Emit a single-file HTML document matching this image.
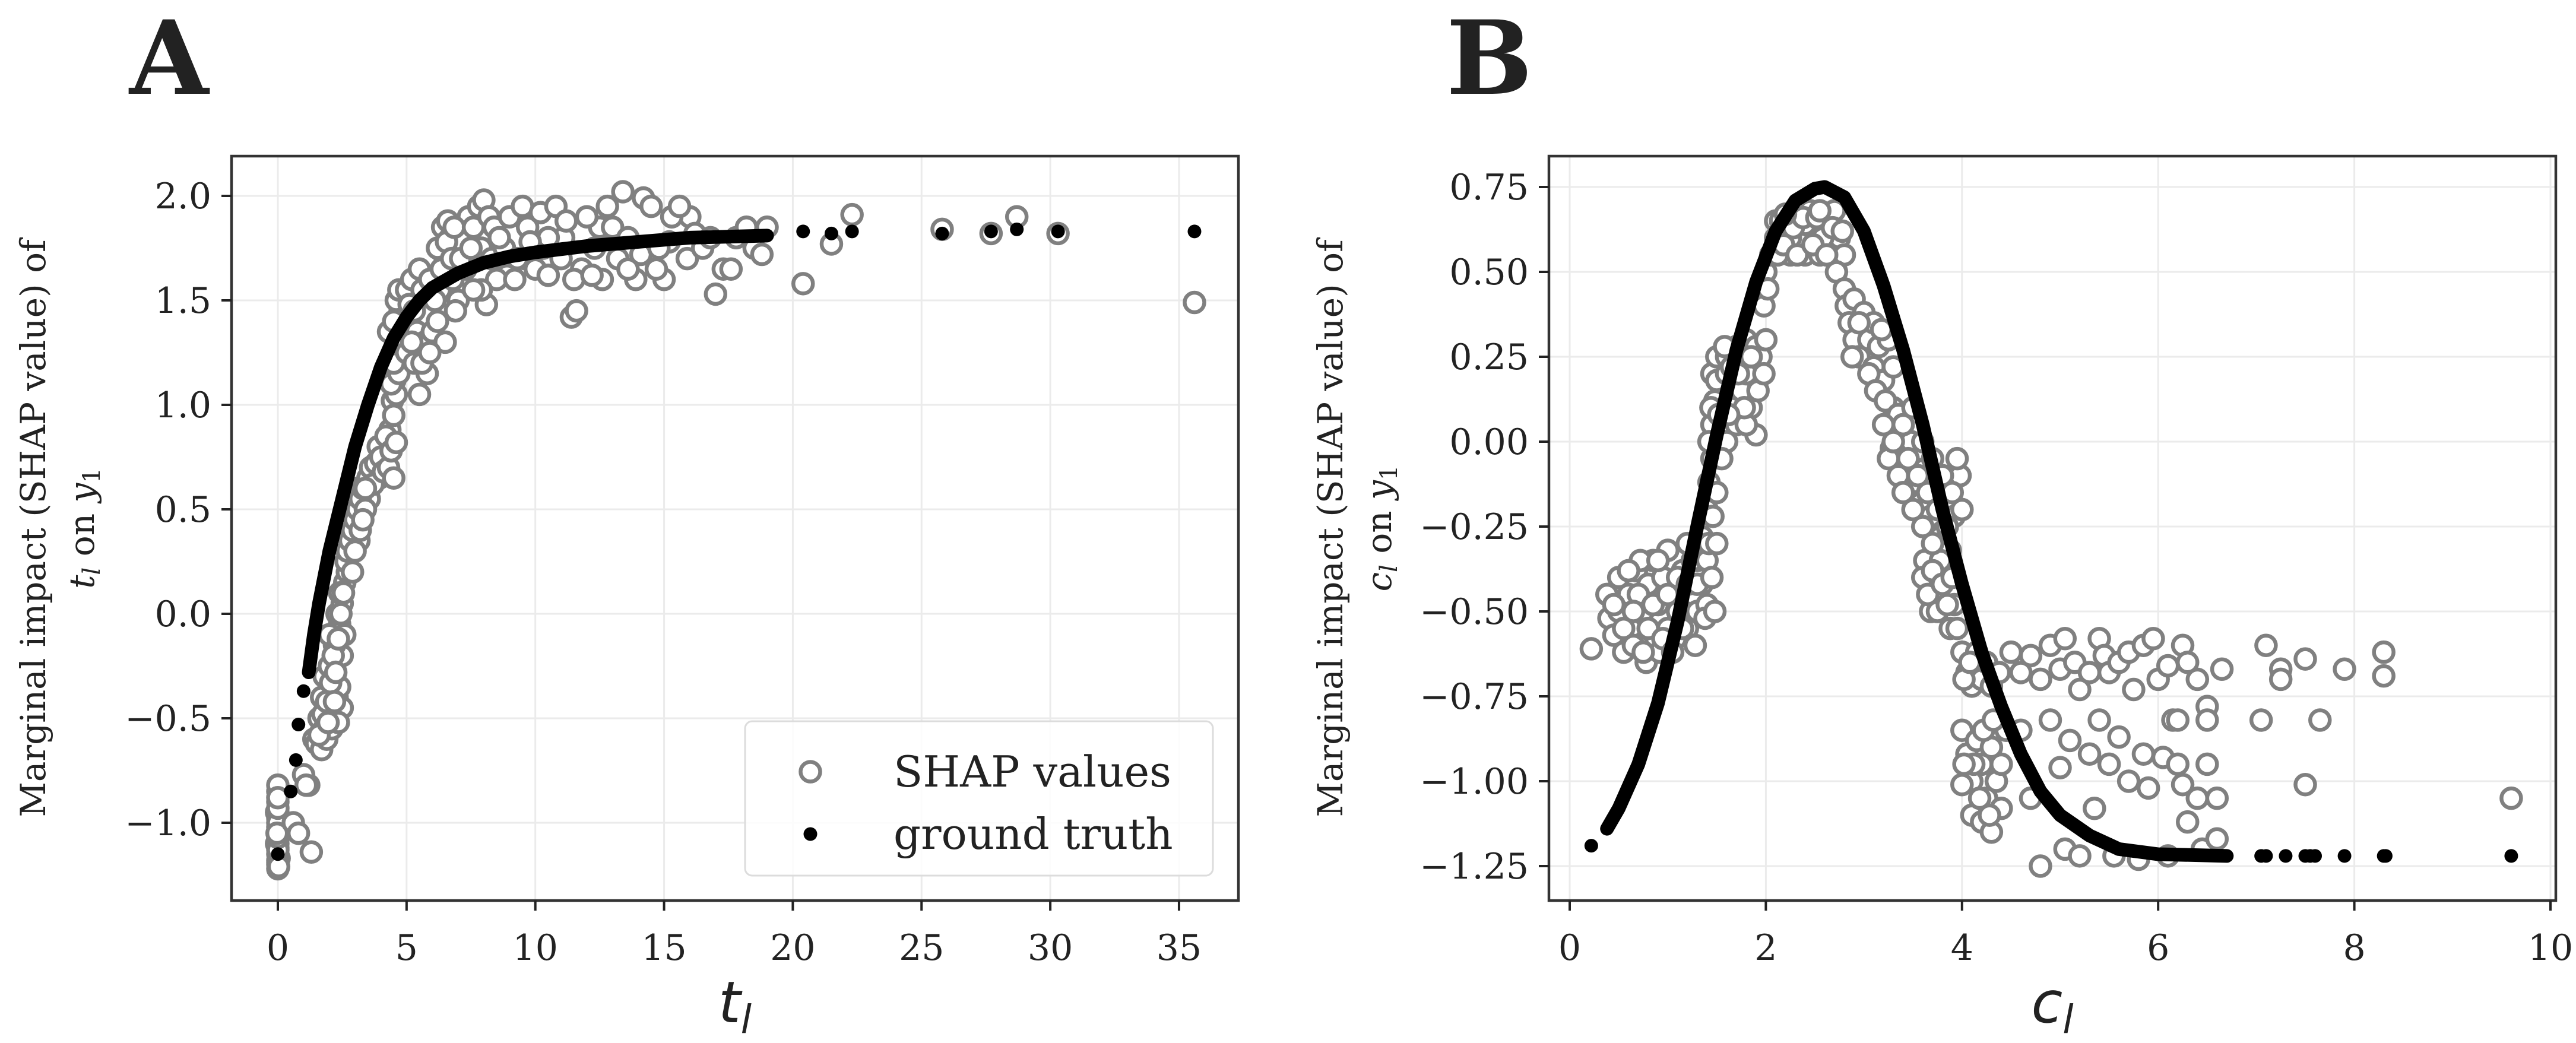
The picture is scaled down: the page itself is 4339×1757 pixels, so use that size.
<!DOCTYPE html>
<html><head><meta charset="utf-8">
<style>
html,body{margin:0;padding:0;background:#fff;}
svg{display:block;}
text{font-family:"DejaVu Serif","Liberation Serif",serif;fill:#222;}
</style></head>
<body>
<svg id="fig" width="4339" height="1757" viewBox="0 0 4339 1757" xmlns="http://www.w3.org/2000/svg"></svg>
<script>
// ---------- Panel A data ----------
const aXTicks = [0,5,10,15,20,25,30,35];
const aYTicks = [2.0,1.5,1.0,0.5,0.0,-0.5,-1.0];
const aYTickLabels = ["2.0","1.5","1.0","0.5","0.0","\u22120.5","\u22121.0"];
const aShap = [[0,-1.22],[0,-1.2],[0,-1.18],[0,-1.15],[0,-1.12],[0,-1.1],[0,-1.08],[0,-1.05],[0,-1.02],[0,-0.98],[0,-0.95],[0,-0.9],[0,-0.85],[0,-0.82],[0.05,-1.17],[-0.05,-1.1],[0.05,-1.0],[-0.05,-0.95],
[0,-1.19],[0,-1.13],[0,-1.07],[0,-1.0],[0,-0.93],[0,-0.88],[0.03,-1.21],[-0.03,-1.05],
[0.6,-1.0],[0.8,-1.05],[1.3,-1.14],[1.2,-0.82],[1.0,-0.77],[1.1,-0.82],
[1.4,-0.6],[1.5,-0.62],[1.7,-0.65],[1.6,-0.5],[1.8,-0.55],[1.9,-0.6],[2.0,-0.45],[2.2,-0.5],[2.1,-0.38],[2.3,-0.4],[1.8,-0.3],[2.0,-0.25],[2.2,-0.3],[2.4,-0.35],[2.5,-0.2],[2.2,-0.15],[2.4,-0.05],[2.0,-0.1],[2.3,0.0],[2.5,0.05],[2.6,0.15],[2.4,0.1],[2.7,0.2],[2.6,-0.1],[2.5,-0.45],[2.1,-0.55],[1.7,-0.4],
[1.6,-0.58],[1.75,-0.48],[1.9,-0.42],[2.05,-0.33],[2.15,-0.2],[2.25,-0.28],[2.35,-0.12],[2.45,0.0],[2.55,0.1],[2.65,0.25],[2.75,0.38],[2.2,-0.42],[2.35,-0.52],[1.95,-0.52],[2.6,0.32],[2.8,0.45],[2.95,0.55],[3.05,0.6],[3.15,0.35],[3.35,0.52],[3.55,0.55],[3.75,0.68],[3.95,0.65],[4.15,0.78],[4.35,0.88],[4.45,1.02],[4.55,1.12],[4.65,1.25],[4.75,1.45],[4.85,1.52],
[2.7,0.3],[2.8,0.35],[2.9,0.4],[3.0,0.45],[3.1,0.5],[3.2,0.55],[3.3,0.6],[3.4,0.5],[3.5,0.65],[3.6,0.7],[3.7,0.62],[3.8,0.72],[3.9,0.8],[4.0,0.75],[4.1,0.68],[4.2,0.85],[4.3,0.7],[4.4,0.78],[4.5,0.65],[4.6,0.82],[3.0,0.3],[3.2,0.4],[3.4,0.6],[2.9,0.2],[3.3,0.45],[4.5,0.95],[4.6,1.05],[4.4,1.1],[4.7,1.15],[4.5,1.2],[4.6,1.3],[4.3,1.35],
[4.5,1.4],[4.6,1.5],[4.7,1.55],[5,1.55],[5.2,1.6],[5.5,1.65],[4.8,1.3],[5.0,1.25],[5.3,1.2],[5.5,1.05],[5.8,1.15],[5.4,1.35],[5.7,1.3],[6.0,1.35],[6.2,1.4],[6.5,1.3],[6.3,1.55],[6.0,1.6],[6.5,1.7],[6.2,1.75],[6.4,1.85],[6.7,1.8],[6.6,1.88],[7.0,1.85],[7.2,1.78],[7.4,1.9],[6.8,1.6],[7.0,1.5],[6.9,1.45],[7.3,1.65],
[5.1,1.48],[5.3,1.45],[5.6,1.55],[5.9,1.6],[6.1,1.5],[6.35,1.65],[6.55,1.78],[6.75,1.7],[6.85,1.85],[7.1,1.7],[7.6,1.85],[7.9,1.75],[8.3,1.7],[8.9,1.62],[9.6,1.7],[10.3,1.75],[11.1,1.8],[12.5,1.85],[13.1,1.78],[14.1,1.72],[15.2,1.78],[16.0,1.9],[5.2,1.3],[5.6,1.2],[5.9,1.25],
[7.5,1.75],[7.8,1.95],[8.0,1.98],[8.2,1.9],[8.4,1.85],[8.5,1.6],[8.1,1.48],[7.9,1.55],[8.8,1.75],[9.0,1.9],[9.2,1.6],[9.5,1.95],[9.7,1.85],[10,1.65],[10.2,1.92],[10.5,1.8],[10.8,1.95],[11,1.7],[11.2,1.88],[11.4,1.42],[11.6,1.45],[11.8,1.65],[12,1.9],[12.3,1.75],[12.6,1.6],[12.8,1.95],[13,1.85],[13.2,1.7],[13.4,2.02],[13.6,1.8],[13.9,1.6],[14.2,1.99],[14.5,1.95],[14.8,1.75],[15,1.6],[15.3,1.9],[15.6,1.95],[15.9,1.7],[16.2,1.82],[16.5,1.75],[17,1.53],[17.3,1.65],[17.6,1.65],[17.8,1.8],[18.2,1.85],[18.5,1.75],[18.8,1.72],[19,1.85],[9.3,1.7],[10.5,1.62],[11.5,1.6],[12.2,1.62],[13.6,1.65],[14.7,1.65],[16.8,1.8],[8.6,1.8],[9.8,1.78],[7.6,1.55],
[20.4,1.58],[21.5,1.77],[22.3,1.91],[25.8,1.84],[27.7,1.82],[28.7,1.9],[30.3,1.82],[35.6,1.49]];
const aTruthCurve = [[1.2,-0.28],[1.4,-0.1],[1.6,0.05],[2.0,0.3],[2.5,0.55],[3.0,0.8],[3.5,1.0],[4.0,1.18],[4.5,1.32],[5,1.42],[5.5,1.5],[6,1.56],[7,1.63],[8,1.68],[9,1.71],[10,1.73],[12,1.76],[14,1.78],[16,1.8],[19,1.81]];
const aTruthPoints = [[0,-1.15],[0.5,-0.85],[0.7,-0.7],[0.8,-0.53],[1.0,-0.37],[20.4,1.83],[21.5,1.82],[22.3,1.83],[25.8,1.82],[27.7,1.83],[28.7,1.84],[30.3,1.83],[35.6,1.83]];

// ---------- Panel B data ----------
const bXTicks = [0,2,4,6,8,10];
const bYTicks = [0.75,0.5,0.25,0,-0.25,-0.5,-0.75,-1.0,-1.25];
const bYTickLabels = ["0.75","0.50","0.25","0.00","\u22120.25","\u22120.50","\u22120.75","\u22121.00","\u22121.25"];
const bShap = [[0.22,-0.61],[0.38,-0.45],[0.4,-0.52],[0.45,-0.57],[0.5,-0.5],[0.55,-0.62],[0.6,-0.45],[0.62,-0.55],[0.68,-0.38],[0.7,-0.6],[0.75,-0.5],[0.78,-0.65],[0.8,-0.42],[0.85,-0.35],[0.88,-0.58],[0.9,-0.48],[0.95,-0.4],[1.0,-0.55],[1.0,-0.32],[1.05,-0.45],[1.1,-0.5],[1.15,-0.38],[1.2,-0.55],[1.2,-0.3],[1.25,-0.45],[1.3,-0.5],[1.3,-0.35],[1.35,-0.42],[1.35,-0.28],[1.4,-0.2],[0.65,-0.6],[0.72,-0.35],[0.92,-0.62],[1.08,-0.58],[1.28,-0.6],[0.5,-0.4],
[0.45,-0.48],[0.55,-0.55],[0.6,-0.38],[0.7,-0.45],[0.8,-0.55],[0.85,-0.48],[0.95,-0.58],[1.0,-0.45],[1.1,-0.4],[1.15,-0.55],[1.2,-0.42],[1.25,-0.35],[1.3,-0.42],[1.4,-0.35],[1.4,-0.48],[1.38,-0.52],[0.9,-0.35],[0.65,-0.5],[0.75,-0.62],[1.05,-0.62],
[1.42,-0.12],[1.45,-0.05],[1.45,0.05],[1.48,0.12],[1.45,0.2],[1.5,0.25],[1.5,-0.15],[1.48,-0.5],[1.45,-0.4],[1.42,-0.3],
[1.42,0.0],[1.44,0.1],[1.46,-0.22],[1.5,0.18],[1.52,0.08],[1.5,-0.3],
[1.6,0.25],[1.7,0.28],[1.8,0.3],[1.6,0.2],[1.65,0.1],[1.7,0.05],[1.75,0.15],[1.8,0.2],[1.85,0.1],[1.9,0.02],[1.9,0.28],[1.95,0.25],[1.8,0.05],[1.6,0.0],[2.0,0.3],[1.55,-0.05],
[1.58,0.28],[1.65,0.22],[1.72,0.2],[1.78,0.1],[1.85,0.25],[1.92,0.15],[1.98,0.2],[1.62,0.08],
[1.98,0.4],[2.0,0.5],[2.02,0.45],[2.05,0.55],[2.1,0.6],[2.1,0.65],
[2.15,0.65],[2.2,0.62],[2.25,0.55],[2.3,0.67],[2.35,0.6],[2.4,0.55],[2.45,0.68],[2.5,0.62],[2.55,0.55],[2.6,0.64],[2.65,0.58],[2.7,0.68],[2.75,0.6],[2.8,0.55],[2.25,0.6],[2.4,0.64],[2.58,0.6],[2.72,0.5],[2.8,0.45],
[2.12,0.55],[2.18,0.58],[2.28,0.63],[2.32,0.55],[2.38,0.66],[2.48,0.58],[2.52,0.66],[2.62,0.55],[2.68,0.63],[2.78,0.62],[2.2,0.67],[2.55,0.68],
[2.82,0.4],[2.85,0.35],[2.9,0.3],[2.9,0.42],[2.95,0.25],[3.0,0.38],[3.05,0.3],[3.1,0.22],[3.1,0.35],[3.15,0.28],[3.2,0.18],[3.25,0.3],[3.3,0.1],[3.3,0.22],[2.88,0.25],
[2.95,0.35],[3.05,0.2],[3.12,0.15],[3.18,0.33],[3.22,0.12],[3.28,-0.02],[3.35,0.08],[3.42,-0.08],[3.48,0.0],[3.52,-0.12],[3.58,-0.18],[3.62,-0.08],[3.68,-0.22],[3.72,-0.12],[3.78,-0.28],[3.82,-0.18],[3.88,-0.32],[3.92,-0.22],[3.98,-0.1],[3.62,-0.35],[3.68,-0.5],[3.78,-0.35],[3.88,-0.55],[3.92,-0.48],
[3.2,0.05],[3.25,-0.05],[3.3,0.0],[3.35,-0.1],[3.4,0.05],[3.4,-0.15],[3.45,-0.05],[3.5,-0.2],[3.5,0.1],[3.55,-0.1],[3.6,-0.25],[3.6,0.0],[3.65,-0.15],[3.7,-0.3],[3.7,-0.05],[3.75,-0.2],[3.8,-0.1],[3.85,-0.25],[3.9,-0.15],[3.95,-0.05],[4.0,-0.2],[3.6,-0.4],[3.65,-0.45],[3.7,-0.38],[3.75,-0.5],[3.8,-0.42],[3.85,-0.48],[3.9,-0.4],[3.95,-0.55],
[4.0,-0.62],[4.05,-0.68],[4.1,-0.72],[4.15,-0.62],[4.2,-0.7],[4.25,-0.65],[4.3,-0.72],[4.0,-0.85],[4.05,-0.92],[4.1,-1.0],[4.1,-1.1],[4.15,-0.88],[4.2,-0.95],[4.2,-1.12],[4.25,-1.05],[4.3,-0.9],[4.3,-1.15],[4.35,-1.0],[4.4,-0.95],[4.4,-1.08],[4.0,-1.01],[4.45,-0.85],
[4.02,-0.7],[4.08,-0.65],[4.12,-0.95],[4.18,-1.05],[4.22,-0.85],[4.28,-1.1],[4.32,-0.82],[4.38,-0.68],[4.02,-0.95],
[4.5,-0.62],[4.6,-0.68],[4.7,-0.63],[4.8,-0.7],[4.9,-0.6],[5.0,-0.67],[5.05,-0.58],[5.15,-0.65],[5.2,-0.73],[5.3,-0.68],[5.4,-0.58],[5.45,-0.63],[5.5,-0.68],[5.6,-0.65],[5.7,-0.62],[5.75,-0.73],[5.85,-0.6],[5.95,-0.58],[6.0,-0.7],[6.1,-0.66],[6.15,-0.82],[6.25,-0.6],[6.3,-0.65],[6.4,-0.7],[6.5,-0.78],[6.5,-0.82],[6.65,-0.67],[6.2,-0.82],
[4.6,-0.85],[4.7,-1.05],[4.8,-1.25],[4.9,-0.82],[5.0,-0.96],[5.05,-1.2],[5.1,-0.88],[5.2,-1.22],[5.3,-0.92],[5.35,-1.08],[5.4,-0.82],[5.5,-0.95],[5.55,-1.22],[5.6,-0.87],[5.7,-1.0],[5.8,-1.23],[5.85,-0.92],[5.9,-1.02],[6.05,-0.93],[6.1,-1.22],[6.2,-0.95],[6.25,-1.01],[6.3,-1.12],[6.4,-1.05],[6.45,-1.2],[6.5,-0.95],[6.6,-1.05],[6.6,-1.17],
[7.05,-0.82],[7.1,-0.6],[7.25,-0.67],[7.25,-0.7],[7.5,-0.64],[7.5,-1.01],[7.65,-0.82],[7.9,-0.67],[8.3,-0.62],[8.3,-0.69],[9.6,-1.05]];
const bTruthCurve = [[0.38,-1.14],[0.5,-1.08],[0.7,-0.95],[0.9,-0.77],[1.1,-0.53],[1.3,-0.25],[1.5,0.02],[1.7,0.27],[1.9,0.47],[2.1,0.62],[2.3,0.71],[2.5,0.745],[2.6,0.75],[2.8,0.72],[3.0,0.62],[3.2,0.46],[3.4,0.27],[3.6,0.05],[3.8,-0.2],[4.0,-0.42],[4.2,-0.62],[4.4,-0.78],[4.6,-0.92],[4.8,-1.03],[5.0,-1.1],[5.3,-1.16],[5.6,-1.2],[6.0,-1.215],[6.7,-1.22]];
const bTruthPoints = [[0.22,-1.19],[7.05,-1.22],[7.1,-1.22],[7.3,-1.22],[7.5,-1.22],[7.55,-1.22],[7.6,-1.22],[7.9,-1.22],[8.3,-1.22],[8.32,-1.22],[9.6,-1.22]];

const NS = "http://www.w3.org/2000/svg";
const svg = document.getElementById('fig');
function mk(tag, attrs, parent){
  const e = document.createElementNS(NS, tag);
  for (const k in attrs) e.setAttribute(k, attrs[k]);
  (parent||svg).appendChild(e);
  return e;
}

function panel(cfg){
  const g = mk('g', {});
  
  
  const sx = v => cfg.x0px + (v - cfg.x0v) * cfg.xs;
  const sy = v => cfg.y0px - (v - cfg.y0v) * cfg.ys;
  const L = cfg.left, R = cfg.right, T = cfg.top, B = cfg.bottom;
  const clipId = cfg.name + '-clip';
  const defs = mk('defs', {}, g);
  const cp = mk('clipPath', {id: clipId}, defs);
  mk('rect', {x:L, y:T, width:R-L, height:B-T}, cp);
  const grid = mk('g', {stroke:'#ebebeb', 'stroke-width':3}, g);
  
  
  cfg.xTicks.forEach(t => mk('line', {x1:sx(t), x2:sx(t), y1:T, y2:B}, grid));
  cfg.yTicks.forEach(t => mk('line', {x1:L, x2:R, y1:sy(t), y2:sy(t)}, grid));
  const dg = mk('g', {'clip-path':'url(#'+clipId+')'}, g);
  cfg.shap.forEach(p => {
    const c = mk('circle', {cx:sx(p[0]), cy:sy(p[1]), r:16.5, fill:'#fff', stroke:'#808080', 'stroke-width':6.5}, dg);
    
    
  });
  const pl = mk('polyline', {points: cfg.curve.map(p => sx(p[0])+','+sy(p[1])).join(' '), fill:'none', stroke:'#000', 'stroke-width':23, 'stroke-linecap':'round', 'stroke-linejoin':'round'}, dg);
  
  
  cfg.points.forEach(p => {
    const c = mk('circle', {cx:sx(p[0]), cy:sy(p[1]), r:11.5, fill:'#000'}, dg);
    
    
  });
  const fr = mk('rect', {x:L, y:T, width:R-L, height:B-T, fill:'none', stroke:'#333', 'stroke-width':4.5}, g);
  
  
  cfg.xTicks.forEach(t => {
    mk('line', {x1:sx(t), x2:sx(t), y1:B, y2:B+17, stroke:'#222', 'stroke-width':4}, g);
    const tx = mk('text', {x:sx(t), y:B+100, 'font-size':60, 'text-anchor':'middle'}, g);
    tx.textContent = String(t);
    
    
  });
  cfg.yTicks.forEach((t,i) => {
    mk('line', {x1:L-17, x2:L, y1:sy(t), y2:sy(t), stroke:'#222', 'stroke-width':4}, g);
    const tx = mk('text', {x:L-34, y:sy(t)+21, 'font-size':60, 'text-anchor':'end'}, g);
    tx.textContent = cfg.yLabels[i];
    
    
  });
  return g;
}

panel({name:'panel-a', left:390, right:2086, top:263, bottom:1517,
  x0v:0, x0px:468, xs:43.37, y0v:-1.0, y0px:1386, ys:352,
  xTicks:aXTicks, yTicks:aYTicks, yLabels:aYTickLabels,
  shap:aShap, curve:aTruthCurve, points:aTruthPoints});
panel({name:'panel-b', left:2609, right:4305, top:263, bottom:1517,
  x0v:0, x0px:2644, xs:165.2, y0v:0.75, y0px:315, ys:572,
  xTicks:bXTicks, yTicks:bYTicks, yLabels:bYTickLabels,
  shap:bShap, curve:bTruthCurve, points:bTruthPoints});
</script>

<svg style="position:absolute;left:0;top:0" width="4339" height="1757" viewBox="0 0 4339 1757" xmlns="http://www.w3.org/2000/svg">
  <text x="218" y="158" font-size="172" font-weight="bold" style="font-family:'DejaVu Serif',serif" fill="#111">A</text>
  <text x="2436" y="158" font-size="172" font-weight="bold" style="font-family:'DejaVu Serif',serif" fill="#111">B</text>

  <g transform="translate(0,890) rotate(-90)" font-size="58">
    <text x="0" y="76" text-anchor="middle">Marginal impact (SHAP value) of</text>
    <text x="0" y="158" text-anchor="middle"><tspan font-style="italic">t</tspan><tspan font-style="italic" font-size="40" dy="10">l</tspan><tspan dy="-10"> on </tspan><tspan font-style="italic">y</tspan><tspan font-size="40" dy="10">1</tspan></text>
  </g>
  <g transform="translate(2185,890) rotate(-90)" font-size="58">
    <text x="0" y="76" text-anchor="middle">Marginal impact (SHAP value) of</text>
    <text x="0" y="158" text-anchor="middle"><tspan font-style="italic">c</tspan><tspan font-style="italic" font-size="40" dy="10">l</tspan><tspan dy="-10"> on </tspan><tspan font-style="italic">y</tspan><tspan font-size="40" dy="10">1</tspan></text>
  </g>

  <text x="1238" y="1722" text-anchor="middle" font-size="96" font-style="italic" style="font-family:'DejaVu Sans',sans-serif">t<tspan font-size="66" dy="18">l</tspan></text>
  <text x="3457" y="1722" text-anchor="middle" font-size="96" font-style="italic" style="font-family:'DejaVu Sans',sans-serif">c<tspan font-size="66" dy="18">l</tspan></text>

  <g>
    <rect x="1255" y="1215" width="788" height="260" rx="12" fill="#fff" fill-opacity="0.85" stroke="#dcdcdc" stroke-width="3"/>
    <circle cx="1365" cy="1300" r="16.5" fill="#fff" stroke="#808080" stroke-width="6.5"/>
    <text x="1505" y="1325" font-size="72">SHAP values</text>
    <circle cx="1365" cy="1405" r="11.5" fill="#000"/>
    <text x="1505" y="1430" font-size="72">ground truth</text>
  </g>
</svg>
</body></html>
